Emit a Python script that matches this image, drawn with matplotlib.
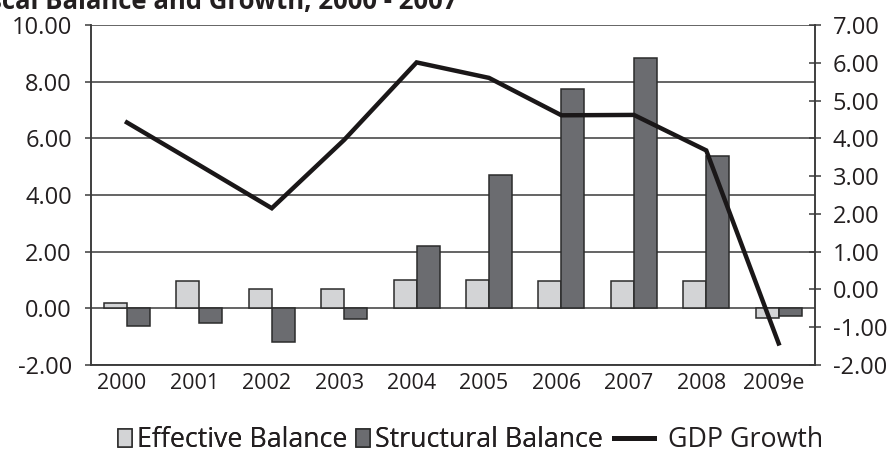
import matplotlib
matplotlib.use("Agg")
import matplotlib.pyplot as plt
import matplotlib.transforms as mtransforms
from matplotlib.lines import Line2D
from matplotlib.patches import Patch
import numpy as np

plt.rcParams['font.family'] = ['Open Sans', 'DejaVu Sans']

years = ['2000', '2001', '2002', '2003', '2004', '2005', '2006', '2007', '2008', '2009e']
effective = [0.19, 0.98, 0.68, 0.68, 1.01, 1.00, 0.97, 0.97, 0.97, -0.35]
structural = [-0.64, -0.51, -1.19, -0.39, 2.21, 4.72, 7.73, 8.83, 5.37, -0.26]
gdp_growth = [4.42, 3.29, 2.15, 3.96, 6.01, 5.60, 4.61, 4.62, 3.68, -1.43]

c_eff = '#d3d4d6'
c_str = '#6b6c70'
c_line = '#1a1718'
edge = '#2b2b2b'
txt = '#231f20'

fig = plt.figure(figsize=(8.94, 4.59), dpi=100)
ax = fig.add_axes([0.1015, 0.2048, 0.81, 0.7407])
ax2 = ax.twinx()

x = np.arange(len(years))
w = 0.318
ax.bar(x - w / 2, effective, w, color=c_eff, edgecolor=edge, linewidth=1.1, zorder=3)
ax.bar(x + w / 2, structural, w, color=c_str, edgecolor=edge, linewidth=1.1, zorder=3)

ax.set_xlim(-0.5, len(years) - 0.5)
ax.set_ylim(-2, 10)
ax.set_yticks(np.arange(-2, 10.1, 2))
ax.set_yticklabels([f'{v:.2f}' for v in np.arange(-2, 10.1, 2)])
ax.yaxis.grid(True, color='#3a3a3a', linewidth=1.1, zorder=1)
ax.set_axisbelow(True)

ax2.plot(x, gdp_growth, color=c_line, linewidth=3.2, solid_joinstyle='miter', zorder=4)
ax2.set_ylim(-2, 7)
ax2.set_yticks(np.arange(-2, 7.1, 1))
ax2.set_yticklabels([f'{v:.2f}' for v in np.arange(-2, 7.1, 1)])

for a in (ax, ax2):
    for s in a.spines.values():
        s.set_color('#3a3a3a')
        s.set_linewidth(1.1)
    a.spines['top'].set_visible(False)

ax.tick_params(axis='y', direction='out', length=4, width=1.1, color='#3a3a3a',
               labelsize=17, pad=9.5, labelcolor=txt)
ax2.tick_params(axis='y', direction='inout', length=9, width=1.1, color='#3a3a3a',
                labelsize=17, pad=8.5, labelcolor=txt)

ax.set_xticks(x)
ax.set_xticklabels(years)
ax.tick_params(axis='x', length=0, labelsize=15.5, pad=6, labelcolor=txt)
shift = mtransforms.ScaledTranslation(-5 / 100, 0, fig.dpi_scale_trans)
for lbl in ax.get_xticklabels():
    lbl.set_transform(lbl.get_transform() + shift)

# title sits partly above the canvas
fig.text(-0.037, 0.981, 'Fiscal Balance and Growth, 2000 - 2007', fontsize=18.5,
         fontweight='bold', color=txt, va='baseline', ha='left')

# two legends side by side: narrow boxes for the bars, a longer stroke for the line
box_handles = [Patch(facecolor=c_eff, edgecolor=edge, linewidth=1.1),
               Patch(facecolor=c_str, edgecolor=edge, linewidth=1.1)]
leg1 = fig.legend(box_handles, ['Effective Balance', 'Structural Balance'],
                  loc='center right', bbox_to_anchor=(603 / 894, 0.041), ncol=2,
                  frameon=False, fontsize=19.3, handlelength=0.52, handleheight=0.68,
                  handletextpad=0.2, columnspacing=0.3, borderpad=0,
                  borderaxespad=0, labelcolor=txt)
fig.add_artist(leg1)
leg2 = fig.legend([Line2D([0], [0], color=c_line, linewidth=3.6)], ['GDP Growth'],
                  loc='center left', bbox_to_anchor=(614 / 894, 0.041),
                  frameon=False, fontsize=19.3, handlelength=1.5,
                  handletextpad=0.5, borderpad=0, borderaxespad=0, labelcolor=txt)

fig.savefig('out.png', dpi=100)
